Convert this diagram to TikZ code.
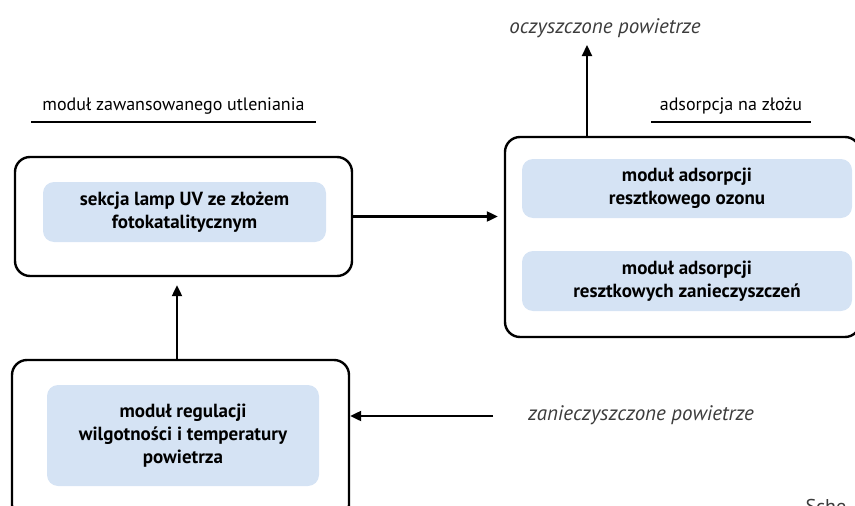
\documentclass[tikz,border=0pt]{standalone}
\usepackage{fontspec}
\setmainfont{PT Sans}
\usetikzlibrary{arrows.meta,calc}
\definecolor{innerblue}{RGB}{213,227,244}
\definecolor{softtext}{RGB}{60,60,60}
\begin{document}
\begin{tikzpicture}[x=1pt,y=-1pt,
  outerbox/.style={draw=black,line width=2.4pt,rounded corners=15pt,inner sep=0pt},
  innerbox/.style={fill=innerblue,rounded corners=11pt,inner sep=0pt,align=center,
     font=\fontsize{19}{23}\selectfont\bfseries},
  grouplabel/.style={font=\fontsize{18}{20}\selectfont},
  flowlabel/.style={font=\fontsize{21}{24}\selectfont\itshape,text=softtext},
  uline/.style={line width=1.6pt},
  arr/.style={line width=2.2pt,-{Triangle[length=11pt,width=10pt]}}]
\useasboundingbox (0,0) rectangle (855,506);
\clip (0,0) rectangle (855,506);
% boxes
\node[outerbox,minimum width=337pt,minimum height=119pt] (b1) at (183.5,216.5) {};
\node[innerbox,minimum width=283pt,minimum height=60pt] (i1) at (184.5,212) {sekcja lamp UV ze złożem\\fotokatalitycznym};
\node[outerbox,minimum width=355pt,minimum height=200pt] (b2) at (682.5,237) {};
\node[innerbox,minimum width=330pt,minimum height=59pt] (i2a) at (687,188.5) {moduł adsorpcji\\resztkowego ozonu};
\node[innerbox,minimum width=330pt,minimum height=60pt] (i2b) at (687,281) {moduł adsorpcji\\resztkowych zanieczyszczeń};
\node[outerbox,minimum width=337pt,minimum height=160pt] (b3) at (180.5,440) {};
\node[innerbox,minimum width=272pt,minimum height=101pt] (i3) at (183,435.5) {moduł regulacji\\wilgotności i temperatury\\powietrza};
% group labels
\node[grouplabel] (g1) at (173.5,106) {moduł zawansowanego utleniania};
\coordinate (g1l) at (31,122);
\coordinate (g1r) at (316,122);
\draw[uline] (g1l) -- (g1r);
\node[grouplabel] (g2) at (731,106) {adsorpcja na złożu};
\coordinate (g2l) at (651,122);
\coordinate (g2r) at (811,122);
\draw[uline] (g2l) -- (g2r);
% flow labels
\node[flowlabel] (out) at (605,28) {oczyszczone powietrze};
\node[flowlabel] (in) at (641,415) {zanieczyszczone powietrze};
\node[font=\fontsize{20}{22}\selectfont,text=softtext,anchor=base west] (sch) at (802,513) {Sche};
% connectors
\coordinate (outtip) at (587,45);
\coordinate (instart) at (493,416);
\draw[arr] ([xshift=-3.5pt]b3.north) -- ([xshift=-3.5pt,yshift=-8pt]b3.north |- b1.south);
\draw[arr,shorten >=6pt] (b1.east) -- (b1.east -| b2.west);
\draw[arr] (outtip |- b2.north) -- (outtip);
\draw[arr] (instart) -- (instart -| b3.east);
\end{tikzpicture}
\end{document}
